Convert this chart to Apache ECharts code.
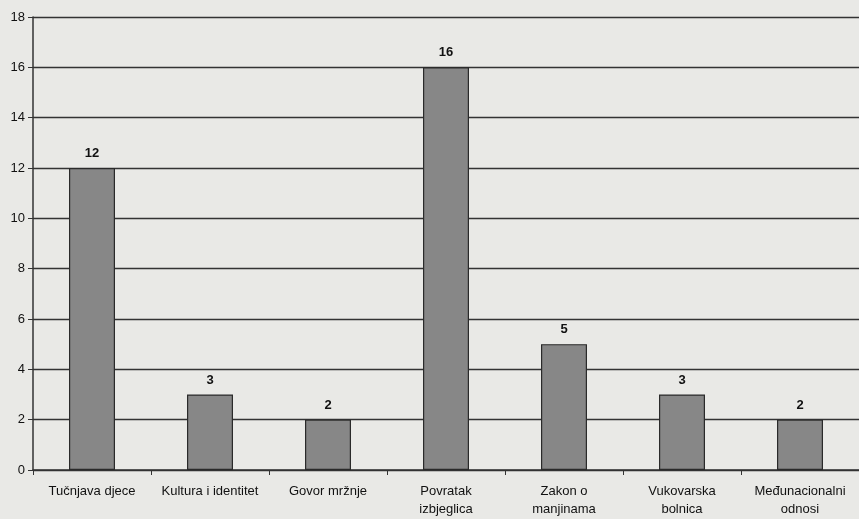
<!DOCTYPE html>
<html>
<head>
<meta charset="UTF-8">
<title>Bar chart</title>
<script src="https://cdn.jsdelivr.net/npm/echarts@6/dist/echarts.min.js"></script>
<style>
  html, body { margin: 0; padding: 0; background: #e9e9e6; }
  #main { width: 859px; height: 519px; }
</style>
</head>
<body>
<div id="main"></div>
<script type="text/javascript">
  // categories and values
  var categories = ['Tučnjava djece', 'Kultura i identitet', 'Govor mržnje', 'Povratak\nizbjeglica',
    'Zakon o\nmanjinama', 'Vukovarska\nbolnica', 'Međunacionalni\nodnosi'];
  var counts = [12, 3, 2, 16, 5, 3, 2];

  var chart = echarts.init(document.getElementById('main'));

  chart.setOption({
    backgroundColor: '#e9e9e6',
    animation: false,
    textStyle: { fontFamily: 'Liberation Sans, Arial, sans-serif' },
    grid: { left: 33, right: 0, top: 17, bottom: 49 },
    xAxis: {
      type: 'category',
      data: categories,
      axisLine: { lineStyle: { color: '#333', width: 1.5 } },
      axisTick: { show: true, length: 5, lineStyle: { color: '#333' } },
      axisLabel: { color: '#111', fontSize: 13, margin: 12, lineHeight: 18, interval: 0 }
    },
    yAxis: {
      type: 'value',
      min: 0,
      max: 18,
      interval: 2,
      axisLine: { show: true, lineStyle: { color: '#333', width: 1.5 } },
      axisTick: { show: true, length: 5, lineStyle: { color: '#333' } },
      axisLabel: { color: '#111', fontSize: 13, margin: 8 },
      splitLine: { lineStyle: { color: '#333', width: 1.3 } }
    },
    series: [{
      type: 'bar',
      data: counts,
      barWidth: 46,
      itemStyle: { color: '#878787', borderColor: '#2a2a2a', borderWidth: 1.2 },
      label: {
        show: true,
        position: 'top',
        distance: 8,
        color: '#111',
        fontSize: 13,
        fontWeight: 'bold'
      }
    }]
  });
</script>
</body>
</html>
